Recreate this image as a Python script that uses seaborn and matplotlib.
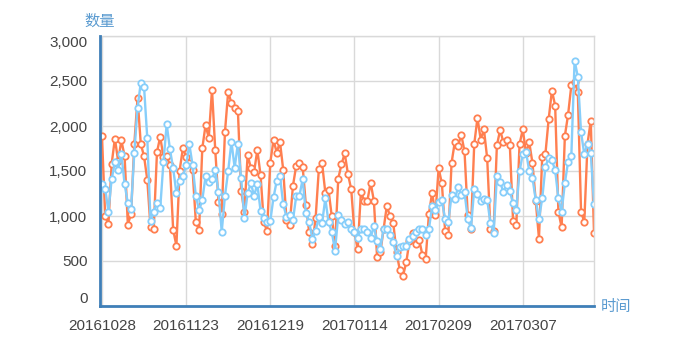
import numpy as np
import pandas as pd
import matplotlib
matplotlib.use('Agg')
import matplotlib.pyplot as plt
import seaborn as sns

# Daily values, starting 20161028
start_date = '2016-10-28'
orange_vals = [
    1890, 1000, 910, 1580, 1860, 1610, 1840, 1665, 905, 1025,
    1800, 2310, 1800, 1665, 1405, 880, 858, 1710, 1880, 1655,
    1665, 1564, 847, 669, 1505, 1753, 1660, 1594, 1509, 935,
    843, 1753, 2008, 1871, 2404, 1734, 1161, 1025, 1934, 2382,
    2253, 2205, 2164, 1280, 1047, 1675, 1538, 1490, 1734, 1453,
    928, 836, 1594, 1842, 1705, 1823, 1512, 960, 898, 1335,
    1557, 1586, 1549, 1121, 824, 688, 973, 1520, 1586, 1261,
    1287, 995, 669, 1416, 1575, 1697, 1464, 1298, 817, 632,
    1269, 1169, 1169, 1372, 1169, 540, 595, 854, 1113, 995,
    921, 595, 403, 336, 484, 723, 810, 688, 736, 566,
    521, 1021, 1261, 1010, 1530, 1365, 836, 787, 1590, 1822,
    1775, 1904, 1718, 1010, 861, 1797, 2090, 1850, 1963, 1642,
    861, 836, 1784, 1956, 1820, 1850, 1788, 946, 898, 1799,
    1963, 1697, 1820, 1586, 1165, 750, 1655, 1693, 2078, 2393,
    2227, 1047, 873, 1890, 2127, 2452, 2489, 2382, 1047, 935,
    1804, 2058, 810,
]
blue_vals = [
    1360, 1305, 1050, 1409, 1601, 1513, 1694, 1354, 1143, 1076,
    1705, 2205, 2482, 2438, 1868, 950, 1050, 1145, 1085, 1600,
    2021, 1742, 1530, 1254, 1390, 1440, 1564, 1797, 1564, 1224,
    1065, 1180, 1439, 1380, 1409, 1509, 1272, 824, 1224, 1501,
    1823, 1538, 1805, 1420, 976, 1254, 1365, 1224, 1354, 1058,
    973, 928, 943, 1206, 1391, 1439, 1132, 991, 1010, 954,
    1217, 1224, 1409, 1028, 935, 750, 836, 984, 920, 1195,
    928, 824, 614, 1010, 954, 909, 935, 861, 824, 761,
    854, 861, 824, 761, 884, 725, 632, 861, 861, 787,
    706, 558, 651, 669, 669, 743, 780, 824, 854, 861,
    787, 854, 1108, 1070, 1155, 1173, 968, 930, 1232, 1186,
    1318, 1232, 1265, 965, 870, 1300, 1250, 1165, 1190, 1182,
    924, 815, 1441, 1380, 1264, 1349, 1275, 1141, 1071, 1497,
    1690, 1715, 1497, 1420, 1180, 965, 1195, 1545, 1650, 1620,
    1510, 1195, 1047, 1365, 1605, 1672, 2726, 2548, 1930, 1685,
    1800, 1700, 1132,
]
y_ticks = [0, 500, 1000, 1500, 2000, 2500, 3000]
label_step = 26

orange = '#ff7f50'
blue = '#87cefa'
axis_blue = '#3f7fb8'
name_blue = '#5b9bd0'

dates = pd.date_range(start_date, periods=len(orange_vals)).strftime('%Y%m%d')
df = pd.DataFrame({
    'idx': np.arange(len(orange_vals)),
    'date': dates,
    'orange': orange_vals,
    'blue': blue_vals,
})

sns.set_theme(style='white')
plt.rcParams['font.family'] = ['Liberation Sans', 'Noto Sans CJK SC', 'DejaVu Sans']

fig = plt.figure(figsize=(6.78, 3.57), dpi=100)
ax = fig.add_axes([100 / 678, 1 - 306 / 357, 494 / 678, 270 / 357])

line_kw = dict(marker='o', markersize=4.6, markerfacecolor='white',
               markeredgewidth=1.3, linewidth=1.7, ax=ax)
sns.lineplot(data=df, x='idx', y='orange', color=orange,
             markeredgecolor=orange, **line_kw)
sns.lineplot(data=df, x='idx', y='blue', color=blue,
             markeredgecolor=blue, **line_kw)

ax.set_xlim(-0.6, len(df) - 1)
ax.set_ylim(0, 3000)
xt = df['idx'][::label_step]
ax.set_xticks(xt, labels=df['date'][::label_step])
ax.set_yticks(y_ticks, labels=[f'{v:,}' for v in y_ticks])
ax.set_xlabel('')
ax.set_ylabel('')

ax.grid(True, color='#d9d9d9', linewidth=1)
ax.set_axisbelow(True)
for side in ['top', 'right']:
    ax.spines[side].set_color('#d9d9d9')
    ax.spines[side].set_linewidth(1)
for side in ['left', 'bottom']:
    ax.spines[side].set_color(axis_blue)
    ax.spines[side].set_linewidth(2)
    ax.spines[side].set_zorder(5)

ax.tick_params(axis='both', length=0, labelsize=11, labelcolor='#444444')
ax.tick_params(axis='y', pad=9)
ax.tick_params(axis='x', pad=9)
ylabels = ax.get_yticklabels()
ylabels[0].set_va('bottom')
ylabels[-1].set_va('top')

fig.text(100 / 678, 1 - 22 / 357, '数量', ha='center', va='center',
         color=name_blue, fontsize=11)
fig.text(601 / 678, 1 - 307 / 357, '时间', ha='left', va='center',
         color=name_blue, fontsize=11)

fig.savefig('out.png', dpi=100)
